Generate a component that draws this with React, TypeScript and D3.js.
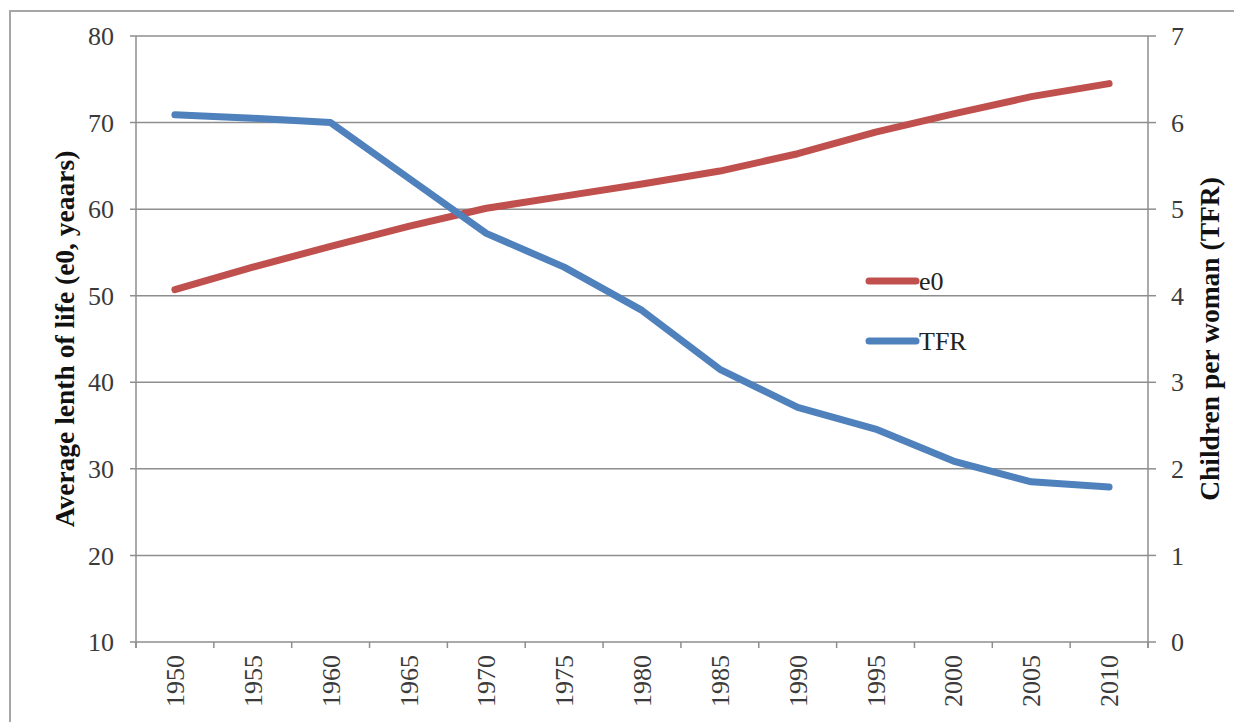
import React from "react";
import * as d3 from "d3";

// data
const years = [1950, 1955, 1960, 1965, 1970, 1975, 1980, 1985, 1990, 1995, 2000, 2005, 2010];
const e0 = [50.7, 53.3, 55.7, 58.0, 60.1, 61.5, 62.9, 64.4, 66.4, 68.9, 71.0, 73.0, 74.5];
const tfr = [6.09, 6.05, 6.0, 5.36, 4.72, 4.33, 3.83, 3.15, 2.71, 2.46, 2.09, 1.85, 1.79];
const leftTicks = [10, 20, 30, 40, 50, 60, 70, 80];
const rightTicks = [0, 1, 2, 3, 4, 5, 6, 7];

const W = 1234, H = 722;
const plot = { left: 136, right: 1148, top: 36, bottom: 642 };
const red = "#C0504D", blue = "#4F81BD";
const grid = "#8e8e8e";
const font = "'Liberation Serif', 'Times New Roman', serif";

export default function App() {
  const x = d3.scaleBand<number>().domain(years).range([plot.left, plot.right]).padding(0);
  const yL = d3.scaleLinear().domain([10, 80]).range([plot.bottom, plot.top]);
  const yR = d3.scaleLinear().domain([0, 7]).range([plot.bottom, plot.top]);
  const cx = (yr: number) => (x(yr) as number) + x.bandwidth() / 2;

  const lineE0 = d3.line<number>().x((d, i) => cx(years[i])).y((d) => yL(d));
  const lineTfr = d3.line<number>().x((d, i) => cx(years[i])).y((d) => yR(d));

  // boundaries between the year bands, where the x ticks sit
  const bounds = years.map((yr) => x(yr) as number).concat([plot.right]);

  return (
    <svg width={W} height={H} style={{ position: "absolute", left: 0, top: 0, background: "#fff" }} fontFamily={font}>
      {/* outer frame of the figure */}
      <rect x={10} y={11} width={W + 20} height={H + 20} fill="none" stroke="#a6a6a6" strokeWidth={2} />

      {/* gridlines + left ticks */}
      {leftTicks.map((t) => (
        <g key={"l" + t}>
          <line x1={plot.left - 6} x2={plot.right} y1={yL(t)} y2={yL(t)} stroke={grid} strokeWidth={1.5} />
          <text x={114} y={yL(t)} dy="0.35em" textAnchor="end" fontSize={26} fill="#3a3a3a">{t}</text>
        </g>
      ))}
      {rightTicks.map((t) => (
        <g key={"r" + t}>
          <line x1={plot.right} x2={plot.right + 8} y1={yR(t)} y2={yR(t)} stroke={grid} strokeWidth={1.5} />
          <text x={1171} y={yR(t)} dy="0.35em" textAnchor="start" fontSize={26} fill="#3a3a3a">{t}</text>
        </g>
      ))}

      {/* axis lines */}
      <line x1={plot.left} x2={plot.left} y1={plot.top} y2={plot.bottom + 6} stroke={grid} strokeWidth={1.5} />
      <line x1={plot.right} x2={plot.right} y1={plot.top} y2={plot.bottom + 6} stroke={grid} strokeWidth={1.5} />
      {bounds.map((b, i) => (
        <line key={"xt" + i} x1={b} x2={b} y1={plot.bottom} y2={plot.bottom + 6} stroke={grid} strokeWidth={1.5} />
      ))}

      {/* year labels, rotated */}
      {years.map((yr) => (
        <text key={"y" + yr} transform={`translate(${cx(yr)},${plot.bottom + 13}) rotate(-90)`} dy="0.35em"
          textAnchor="end" fontSize={26} fill="#3a3a3a">{yr}</text>
      ))}

      {/* axis titles */}
      <text transform={`translate(74,${(plot.top + plot.bottom) / 2}) rotate(-90)`} textAnchor="middle"
        fontSize={27.5} fontWeight="bold" fill="#111">Average lenth of life (e0, yeaars)</text>
      <text transform={`translate(1219,${(plot.top + plot.bottom) / 2}) rotate(-90)`} textAnchor="middle"
        fontSize={27.5} fontWeight="bold" fill="#111">Children per woman (TFR)</text>

      {/* series */}
      <path d={lineE0(e0) || ""} fill="none" stroke={red} strokeWidth={7} strokeLinecap="round" strokeLinejoin="round" />
      <path d={lineTfr(tfr) || ""} fill="none" stroke={blue} strokeWidth={7} strokeLinecap="round" strokeLinejoin="round" />

      {/* legend */}
      <line x1={869} x2={916} y1={281} y2={281} stroke={red} strokeWidth={7} strokeLinecap="round" />
      <text x={919} y={290} fontSize={26} fill="#222">e0</text>
      <line x1={869} x2={916} y1={341} y2={341} stroke={blue} strokeWidth={7} strokeLinecap="round" />
      <text x={919} y={350} fontSize={26} fill="#222">TFR</text>
    </svg>
  );
}
